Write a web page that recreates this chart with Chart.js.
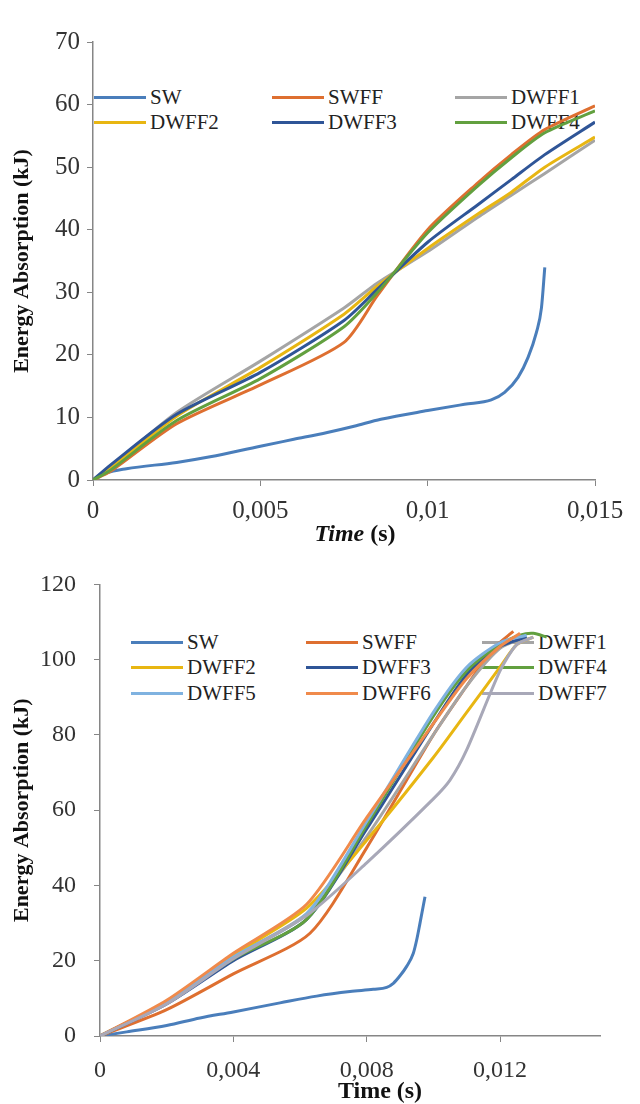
<!DOCTYPE html>
<html>
<head>
<meta charset="utf-8">
<script src="https://cdn.jsdelivr.net/npm/chart.js@4"></script>
<style>
body{margin:0;background:#fff;}
.panel{position:absolute;left:0;width:640px;height:552px;}
.panel canvas{position:absolute;left:0;top:0;z-index:1;}
.leg{position:absolute;display:flex;align-items:center;height:24px;font:21px "Liberation Serif",serif;color:#222;z-index:0;white-space:nowrap}
.leg .ln{display:inline-block;width:52px;height:3px;margin-right:4px}
.xt{position:absolute;transform:translate(-50%,-50%);font:bold 24px "Liberation Serif",serif;color:#111;z-index:2;white-space:nowrap}
</style>
</head>
<body>
<div class="panel" id="p1" style="top:0">
  <canvas id="c1" width="640" height="552"></canvas>
  <div class="xt" style="left:355px;top:533px"><i>Time</i> (s)</div>
</div>
<div class="panel" id="p2" style="top:552px">
  <canvas id="c2" width="640" height="552"></canvas>
  <div class="xt" style="left:380px;top:538px">Time (s)</div>
</div>
<script>
// ---- top chart data ----
const namesA = ['SW', 'SWFF', 'DWFF1', 'DWFF2', 'DWFF3', 'DWFF4'];
const colorsA = ['#4A7EBB', '#DE6F30', '#A5A5A5', '#E8B612', '#2F5597', '#62A03F'];
const xTicksA = [0, 0.005, 0.01, 0.015];
const yTicksA = [0, 10, 20, 30, 40, 50, 60, 70];

const swTimeA = [0, 0.0004, 0.001, 0.0025, 0.0035, 0.005, 0.006, 0.007, 0.0078, 0.0086, 0.01, 0.0111, 0.0119, 0.0123, 0.0127, 0.013, 0.01325, 0.0134, 0.0135];
const swA = [0, 1.1, 1.8, 2.8, 3.7, 5.4, 6.5, 7.6, 8.6, 9.7, 11.1, 12.1, 12.8, 14.0, 16.4, 19.6, 23.6, 27.5, 34.0];
const timeA = [0, 0.0005, 0.0025, 0.005, 0.0075, 0.0085, 0.01, 0.0115, 0.0125, 0.0135, 0.015];
const swffA = [0, 1.3, 9.0, 15.2, 22.0, 29.5, 40.0, 47.5, 52.0, 56.0, 59.8];
const dwff1A = [0, 2.0, 10.8, 19.0, 27.5, 31.5, 36.5, 42.0, 45.5, 49.0, 54.3];
const dwff2A = [0, 1.8, 10.2, 18.0, 26.5, 31.0, 37.0, 42.5, 46.0, 50.0, 54.8];
const dwff3A = [0, 2.3, 10.5, 17.2, 25.5, 30.5, 38.0, 44.0, 48.0, 52.0, 57.2];
const dwff4A = [0, 1.5, 9.5, 16.2, 24.5, 30.0, 39.5, 47.0, 51.5, 55.5, 59.0];

// ---- bottom chart data ----
const namesB = ['SW', 'SWFF', 'DWFF1', 'DWFF2', 'DWFF3', 'DWFF4', 'DWFF5', 'DWFF6', 'DWFF7'];
const colorsB = ['#4A7EBB', '#DE6F30', '#A5A5A5', '#E8B612', '#2F5597', '#62A03F', '#7FB2E0', '#F08A4B', '#A8A8B8'];
const xTicksB = [0, 0.004, 0.008, 0.012];
const yTicksB = [0, 20, 40, 60, 80, 100, 120];

const swTimeB = [0, 0.0008, 0.002, 0.003, 0.004, 0.0054, 0.0065, 0.0075, 0.0082, 0.0086, 0.0088, 0.009, 0.0092, 0.0094, 0.0095, 0.0096, 0.00975];
const swB = [0, 1.1, 2.8, 4.8, 6.4, 8.8, 10.6, 11.8, 12.4, 12.9, 14.0, 16.0, 18.5, 22.0, 25.5, 30.0, 37.0];
const swffTimeB = [0, 0.002, 0.004, 0.0063, 0.008, 0.01, 0.011, 0.0118, 0.0124];
const swffB = [0, 7, 16.5, 27.3, 50, 80, 93, 103, 107.5];
const dwff1TimeB = [0, 0.002, 0.004, 0.0062, 0.008, 0.01, 0.011, 0.012, 0.0128];
const dwff1B = [0, 9, 21, 32.5, 53, 80, 93, 103, 106];
const dwff2TimeB = [0, 0.002, 0.004, 0.0062, 0.008, 0.01, 0.011, 0.012, 0.0125, 0.013];
const dwff2B = [0, 9, 21.5, 34, 52, 74, 86, 98, 104, 106];
const dwff3TimeB = [0, 0.002, 0.004, 0.0062, 0.008, 0.01, 0.011, 0.012, 0.0128];
const dwff3B = [0, 8.5, 20, 31, 55, 83, 96, 103.5, 106];
const dwff4TimeB = [0, 0.002, 0.004, 0.0062, 0.008, 0.01, 0.011, 0.012, 0.0126, 0.013, 0.0134];
const dwff4B = [0, 9, 20.5, 31, 56, 85, 97, 104, 106.5, 107, 106];
const dwff5TimeB = [0, 0.002, 0.004, 0.0062, 0.008, 0.01, 0.011, 0.012, 0.0128];
const dwff5B = [0, 9, 21, 32.5, 57, 86, 98, 104.5, 106.5];
const dwff6TimeB = [0, 0.002, 0.004, 0.0062, 0.008, 0.01, 0.011, 0.012, 0.0126];
const dwff6B = [0, 9.5, 22, 35, 58, 83, 95, 103.5, 107];
const dwff7TimeB = [0, 0.002, 0.004, 0.0062, 0.008, 0.01, 0.0105, 0.011, 0.012, 0.0125, 0.013];
const dwff7B = [0, 8.5, 20.5, 32, 46, 63, 68, 76, 97, 104, 106];

const AXIS = '#868686';
const SERIF = '"Liberation Serif", "Times New Roman", serif';

function fmtTime(v) {
  return String(+v.toFixed(4)).replace('.', ',');
}

function makeChart(canvasId, names, colors, times, values, ax) {
  const datasets = names.map((name, i) => ({
    label: name,
    data: times[i].map((t, k) => ({x: t, y: values[i][k]})),
    borderColor: colors[i],
    borderWidth: 3,
    pointRadius: 0,
    fill: false,
    tension: 0.25,
    cubicInterpolationMode: name === 'SW' ? 'monotone' : 'default'
  })).reverse(); // first series on top, like the original

  return new Chart(document.getElementById(canvasId), {
    type: 'line',
    data: {datasets},
    options: {
      responsive: false,
      animation: false,
      layout: {padding: ax.pad},
      plugins: {legend: {display: false}, tooltip: {enabled: false}},
      scales: {
        x: {
          type: 'linear', min: 0, max: ax.xMax,
          grid: {drawOnChartArea: false, color: AXIS, tickLength: 6},
          border: {color: AXIS, width: 1.5},
          ticks: {font: {family: SERIF, size: ax.fs}, color: '#333', padding: ax.xPad, maxRotation: 0,
                  callback: v => fmtTime(v)},
          afterBuildTicks: s => { s.ticks = ax.xTicks.map(v => ({value: v})); },
          afterFit: s => { s.height = ax.xH; }
        },
        y: {
          min: 0, max: ax.yMax,
          grid: {drawOnChartArea: false, color: AXIS, tickLength: 6},
          border: {color: AXIS, width: 1.5},
          ticks: {font: {family: SERIF, size: ax.fs}, color: '#333', padding: ax.yPad},
          afterBuildTicks: s => { s.ticks = ax.yTicks.map(v => ({value: v})); },
          afterFit: s => { s.width = ax.yW; },
          title: {display: true, text: 'Energy Absorption (kJ)', color: '#111',
                  font: {family: SERIF, size: 22, weight: 'bold'}, padding: {top: 9, bottom: 0}}
        }
      }
    }
  });
}

function makeLegend(panelId, names, colors, cols, rows) {
  const panel = document.getElementById(panelId);
  names.forEach((name, i) => {
    const d = document.createElement('div');
    d.className = 'leg';
    d.style.left = cols[i % cols.length] + 'px';
    d.style.top = (rows[Math.floor(i / cols.length)] - 12) + 'px';
    d.innerHTML = '<span class="ln" style="background:' + colors[i] + '"></span>' + name;
    panel.appendChild(d);
  });
}

makeLegend('p1', namesA, colorsA, [94, 272, 455], [97, 122]);
makeLegend('p2', namesB, colorsB, [131, 306, 482], [90, 115, 141]);

makeChart('c1', namesA, colorsA,
  [swTimeA, timeA, timeA, timeA, timeA, timeA],
  [swA, swffA, dwff1A, dwff2A, dwff3A, dwff4A],
  {pad: {left: 0, top: 42, right: 45, bottom: 0}, xMax: 0.015, yMax: 70,
   xTicks: xTicksA, yTicks: yTicksA, xH: 72, yW: 93, fs: 25, xPad: 10, yPad: 7});

makeChart('c2', namesB, colorsB,
  [swTimeB, swffTimeB, dwff1TimeB, dwff2TimeB, dwff3TimeB, dwff4TimeB, dwff5TimeB, dwff6TimeB, dwff7TimeB],
  [swB, swffB, dwff1B, dwff2B, dwff3B, dwff4B, dwff5B, dwff6B, dwff7B],
  {pad: {left: 0, top: 27, right: 40, bottom: 0}, xMax: 0.015, yMax: 120,
   xTicks: xTicksB, yTicks: yTicksB, xH: 68, yW: 100, fs: 24, xPad: 14, yPad: 18});
</script>
</body>
</html>
